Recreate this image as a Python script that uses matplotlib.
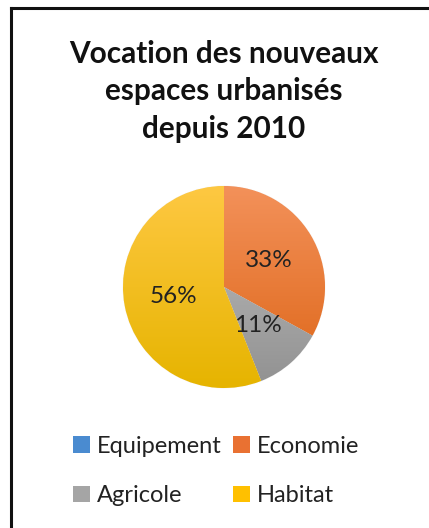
import matplotlib
matplotlib.use("Agg")
import matplotlib.pyplot as plt
import numpy as np
from matplotlib.patches import Patch
from matplotlib.lines import Line2D
from matplotlib.colors import LinearSegmentedColormap

# données (en %)
categories = ["Equipement", "Economie", "Agricole", "Habitat"]
valeurs = [0, 33, 11, 56]
couleurs = ["#4A8BD0", "#E97132", "#A5A5A5", "#FFC000"]
# dégradé haut -> bas de chaque part (style Excel)
degrade = [("#6FA3DC", "#3C7CC4"),
           ("#F3915A", "#DD6516"),
           ("#C2C2C2", "#919191"),
           ("#FEC842", "#E6B400")]
titre = "Vocation des nouveaux\nespaces urbanisés\ndepuis 2010"

W, H = 429, 528
fig = plt.figure(figsize=(W / 100, H / 100), dpi=100)
fig.patch.set_facecolor("white")

# cadre (seulement haut et gauche visibles)
fig.add_artist(Line2D([11 / W, 1], [1 - 8 / H, 1 - 8 / H], color="#111111", lw=2.2,
                      solid_capstyle="projecting"))
fig.add_artist(Line2D([11 / W, 11 / W], [1 - 8 / H, 0], color="#111111", lw=2.2,
                      solid_capstyle="projecting"))

fig.text(224 / W, 1 - 40 / H, titre, ha="center", va="top", family="Lato",
         fontweight="bold", fontsize=21.4, linespacing=1.41, color="#111111")

# camembert
cx, cy, r = 224, 287, 101
ax = fig.add_axes([(cx - r) / W, (H - cy - r) / H, 2 * r / W, 2 * r / H])
ax.axis("off")


def etiquette(p):
    return "" if p < 0.5 else "{:.0f}%".format(p)


wedges, textes, pcts = ax.pie(valeurs, colors=couleurs, startangle=90, counterclock=False,
                              radius=1, autopct=etiquette, pctdistance=0.51,
                              wedgeprops=dict(linewidth=0.6, edgecolor="#F4F4F4"),
                              textprops=dict(family="Lato", fontsize=17.5, color="#222222"),
                              frame=False)
ax.set_xlim(-1, 1)
ax.set_ylim(-1, 1)
ax.set_aspect("auto")

grad = np.linspace(0, 1, 256).reshape(-1, 1)
for w, (c1, c2) in zip(wedges, degrade):
    cmap = LinearSegmentedColormap.from_list("g", [c1, c2])
    im = ax.imshow(grad, cmap=cmap, extent=[-1, 1, -1, 1], aspect="auto",
                   origin="upper", zorder=w.get_zorder() + 0.1)
    im.set_clip_path(w)
for t in pcts:
    t.set_zorder(5)

# légende : remplie par colonnes -> on réordonne pour avoir les lignes comme Excel
ordre = [0, 2, 1, 3]
poignees = [Patch(facecolor=couleurs[i], edgecolor="none") for i in ordre]
leg = fig.legend(poignees, [categories[i] for i in ordre], ncol=2, loc="upper left",
                 bbox_to_anchor=(73 / W, 1 - 436 / H), frameon=False,
                 prop=dict(family="Lato", size=17),
                 handlelength=0.72, handleheight=0.72, handletextpad=0.3,
                 columnspacing=0.47, labelspacing=1.2, borderaxespad=0, borderpad=0)
for t in leg.get_texts():
    t.set_color("#222222")

fig.savefig("out.png", dpi=100)
